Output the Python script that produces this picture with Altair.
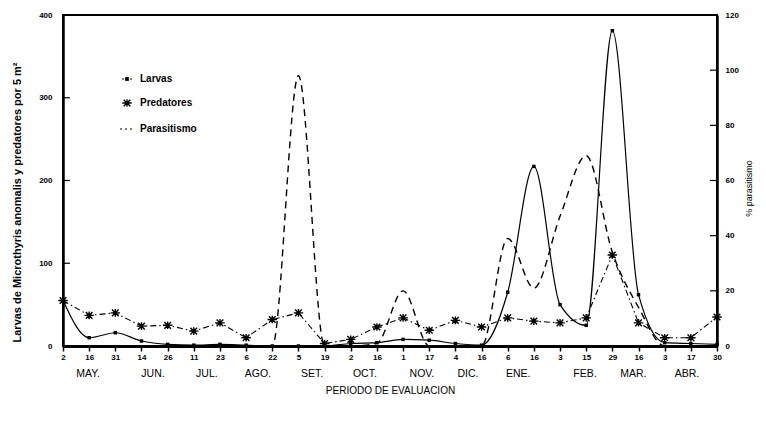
import altair as alt
import pandas as pd

# ---- data ----
days = ["2", "16", "31", "14", "26", "11", "23", "6", "22", "5", "19", "2", "16",
        "1", "17", "4", "16", "6", "16", "3", "15", "29", "16", "3", "17", "30"]
larvas = [55, 10, 16, 6, 2, 1, 2, 1, 0, 0, 0, 3, 4, 8, 7, 3, 1, 65, 217, 50, 25, 381, 62, 4, 3, 2]
predatores = [55, 37, 40, 24, 25, 18, 28, 10, 32, 40, 3, 8, 23, 34, 19, 31, 23, 34, 30, 28, 34, 110, 28, 10, 10, 35]
parasitismo = [0, 0, 0, 0, 0, 0, 0, 0, 0, 98, 0, 0, 1, 20, 0, 0, 0, 39, 21, 47, 69, 34, 14, 0, 0, 0]
months = ["MAY.", "JUN.", "JUL.", "AGO.", "SET.", "OCT.", "NOV.", "DIC.", "ENE.", "FEB.", "MAR.", "ABR."]
month_pos = [0.96, 3.44, 5.5, 7.45, 9.52, 11.54, 13.72, 15.48, 17.4, 19.95, 21.8, 23.85]
left_ticks = [0, 100, 200, 300, 400]
right_ticks = [0, 20, 40, 60, 80, 100, 120]

W, H = 654, 331
FONT = "Liberation Sans"

df = pd.DataFrame({
    "idx": list(range(len(days))),
    "larvas": larvas,
    "predatores": predatores,
    "parasitismo": parasitismo,
})
mdf = pd.DataFrame({"month": months, "pos": month_pos})
ltdf = pd.DataFrame({"v": left_ticks})
rtdf = pd.DataFrame({"v": right_ticks})

label_expr = "[" + ",".join("'%s'" % d for d in days) + "][datum.value]"

xscale = alt.Scale(domain=[0, len(days) - 1], nice=False, zero=False)
xaxis = alt.Axis(
    values=list(range(len(days))), labelExpr=label_expr, grid=False,
    labelOverlap=False,
    domainColor="black", domainWidth=3, tickColor="black", tickWidth=1.5,
    tickSize=5, labelFont=FONT, labelFontSize=8, labelFontWeight="bold",
    labelColor="black", labelPadding=2, labelFlush=False,
    title="PERIODO DE EVALUACION", titleFont=FONT, titleFontSize=10,
    titleFontWeight="normal", titleColor="black", titleY=44,
    titleBaseline="middle",
)
X = alt.X("idx:Q", scale=xscale, axis=xaxis)

yl_scale = alt.Scale(domain=[0, 400], nice=False)
yl_axis = alt.Axis(
    values=left_ticks, grid=False, ticks=False, domainColor="black",
    labelOverlap=False,
    domainWidth=2.5, labelFont=FONT, labelFontSize=8, labelFontWeight="bold",
    labelColor="black", labelPadding=11,
    title="Larvas de Microthyris anomalis y predatores por 5 m²",
    titleFont=FONT, titleFontSize=11, titleFontWeight="bold",
    titleColor="black", titleAngle=270, titleX=-46, titleY=187,
    titleAlign="center", titleBaseline="middle",
)
yr_scale = alt.Scale(domain=[0, 120], nice=False)
yr_axis = alt.Axis(
    values=right_ticks, grid=False, ticks=False, orient="right",
    labelOverlap=False,
    domainColor="black", domainWidth=2.5, labelFont=FONT, labelFontSize=8,
    labelFontWeight="bold", labelColor="black", labelPadding=8,
    title="% parasitismo", titleFont=FONT, titleFontSize=9,
    titleFontWeight="normal", titleColor="black", titleAngle=270,
    titleX=31, titleY=173, titleAlign="center", titleBaseline="middle",
)

ASTER = "M-1,0L1,0M-0.7,-0.7L0.7,0.7M-0.7,0.7L0.7,-0.7M0,-0.8L0,0.8"

base = alt.Chart(df)

larv_line = base.mark_line(color="black", strokeWidth=1.2, interpolate="monotone").encode(
    x=X, y=alt.Y("larvas:Q", scale=yl_scale, axis=yl_axis))
larv_pts = base.mark_point(shape="square", filled=True, color="black", size=12, opacity=1).encode(
    x=X, y=alt.Y("larvas:Q", scale=yl_scale, axis=yl_axis))
pred_line = base.mark_line(color="black", strokeWidth=1.1, strokeDash=[6, 3, 1.5, 3]).encode(
    x=X, y=alt.Y("predatores:Q", scale=yl_scale, axis=yl_axis))
pred_pts = base.mark_point(shape=ASTER, filled=False, color="black", size=90,
                           strokeWidth=1.4, opacity=1).encode(
    x=X, y=alt.Y("predatores:Q", scale=yl_scale, axis=yl_axis))
lticks = alt.Chart(ltdf).mark_rule(color="black", strokeWidth=1.2).encode(
    y=alt.Y("v:Q", scale=yl_scale, axis=yl_axis), x=alt.value(0), x2=alt.value(7))

month_text = alt.Chart(mdf).mark_text(font=FONT, fontSize=10.5, color="black",
                                      baseline="middle", align="center").encode(
    x=alt.X("pos:Q", scale=xscale, axis=xaxis), y=alt.value(H + 28), text="month:N")

# manual legend
def legend_text(label, ypx):
    return alt.Chart(pd.DataFrame({"t": [label]})).mark_text(
        font=FONT, fontSize=10, color="black", align="left", baseline="middle",
        fontWeight="bold").encode(x=alt.value(77), y=alt.value(ypx), text="t:N")

leg_larv_line = alt.Chart(pd.DataFrame({"a": [0]})).mark_rule(
    color="black", strokeWidth=1.2, strokeDash=[2, 2]).encode(
    x=alt.value(59), x2=alt.value(70), y=alt.value(64))
leg_larv_pt = alt.Chart(pd.DataFrame({"a": [0]})).mark_point(
    shape="square", filled=True, color="black", size=14, opacity=1).encode(
    x=alt.value(64), y=alt.value(64))
leg_pred_pt = alt.Chart(pd.DataFrame({"a": [0]})).mark_point(
    shape=ASTER, filled=False, color="black", size=90, strokeWidth=1.3, opacity=1).encode(
    x=alt.value(64), y=alt.value(88))
leg_para_line = alt.Chart(pd.DataFrame({"a": [0]})).mark_rule(
    color="black", strokeWidth=1, strokeDash=[2, 3]).encode(
    x=alt.value(57), x2=alt.value(71), y=alt.value(114))

left = alt.layer(
    larv_line, larv_pts, pred_line, pred_pts, lticks, month_text,
    leg_larv_line, leg_larv_pt, leg_pred_pt, leg_para_line,
    legend_text("Larvas", 64), legend_text("Predatores", 88), legend_text("Parasitismo", 114),
)

para_line = base.mark_line(color="black", strokeWidth=1.4, strokeDash=[7, 5],
                           interpolate="monotone").encode(
    x=X, y=alt.Y("parasitismo:Q", scale=yr_scale, axis=yr_axis))
rticks = alt.Chart(rtdf).mark_rule(color="black", strokeWidth=1.2).encode(
    y=alt.Y("v:Q", scale=yr_scale, axis=yr_axis), x=alt.value(W - 7), x2=alt.value(W))
right = alt.layer(para_line, rticks)

chart = alt.layer(left, right).resolve_scale(y="independent").properties(
    width=W, height=H,
    padding={"left": 55, "top": 7, "right": 41, "bottom": 69},
    autosize=alt.AutoSizeParams(type="none"),
    background="white",
).configure_view(stroke="black", strokeWidth=2).configure_axis(labelOverlap=False)

chart.save("out.html", embed_options={"renderer": "svg", "actions": False})
